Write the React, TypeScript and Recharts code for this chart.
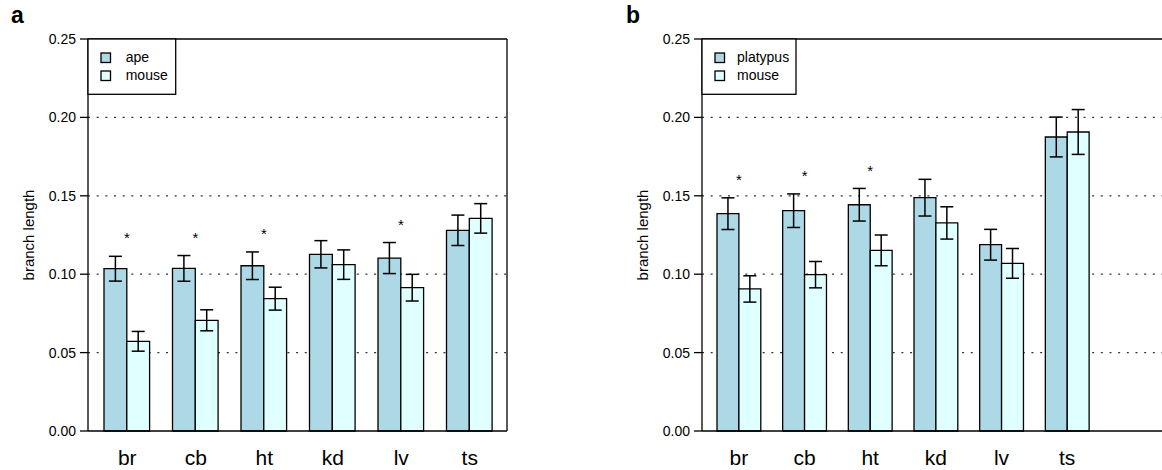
import React from "react";
import { Bar, BarChart, CartesianGrid, ErrorBar, LabelList, Legend, XAxis, YAxis } from "recharts";

const FONT = "'Liberation Sans', Arial, Helvetica, sans-serif";
const FIRST_FILL = "#add8e6";
const SECOND_FILL = "#e0ffff";

const categories = ["br", "cb", "ht", "kd", "lv", "ts"];
const yTicks = [0, 0.05, 0.1, 0.15, 0.2, 0.25];

// panel a: ape vs mouse
const apeLength = [0.1035, 0.1037, 0.1054, 0.1127, 0.1103, 0.128];
const apeErr = [0.0079, 0.0082, 0.0088, 0.0087, 0.0099, 0.0097];
const mouseALength = [0.0572, 0.0706, 0.0844, 0.1061, 0.0914, 0.1356];
const mouseAErr = [0.0063, 0.0067, 0.0073, 0.0094, 0.0085, 0.0094];
const sigA = [true, true, true, false, true, false];

// panel b: platypus vs mouse
const platypusLength = [0.1386, 0.1405, 0.1443, 0.1488, 0.1188, 0.1875];
const platypusErr = [0.0101, 0.0107, 0.0104, 0.0117, 0.0098, 0.0127];
const mouseBLength = [0.0906, 0.0997, 0.1152, 0.1327, 0.1069, 0.1907];
const mouseBErr = [0.0084, 0.0084, 0.0098, 0.0103, 0.0095, 0.0143];
const sigB = [true, true, true, false, false, false];

type Row = {
  cat: string;
  first: number;
  firstErr: number;
  second: number;
  secondErr: number;
  sig: boolean;
};

function buildRows(first: number[], firstErr: number[], second: number[], secondErr: number[], sig: boolean[]): Row[] {
  return categories.map((cat, i) => ({
    cat,
    first: first[i],
    firstErr: firstErr[i],
    second: second[i],
    secondErr: secondErr[i],
    sig: sig[i]
  }));
}

const rowsA = buildRows(apeLength, apeErr, mouseALength, mouseAErr, sigA);
const rowsB = buildRows(platypusLength, platypusErr, mouseBLength, mouseBErr, sigB);

const starLabel = (rows: Row[]) => (props: any) => {
  const row = rows.find((r) => r.cat === props.value);
  if (!row || !row.sig) return null;
  const x = Number(props.x);
  const y = Number(props.y);
  const w = Number(props.width);
  const h = Number(props.height);
  const perUnit = h / row.first;
  const top = Math.max(row.first + row.firstErr, row.second + row.secondErr);
  const cy = y + h - top * perUnit - 21.5;
  return (
    <text x={x + w} y={cy + 8.6} textAnchor="middle" fontSize={15} fontFamily={FONT} fill="#000">
      *
    </text>
  );
};

function LegendBox({ names, width, textX }: { names: string[]; width: number; textX: number }) {
  const fills = [FIRST_FILL, SECOND_FILL];
  return (
    <svg width={width + 2} height={58} style={{ display: "block" }}>
      <rect x={1} y={1} width={width} height={55.3} fill="#fff" stroke="#000" strokeWidth={1.3} />
      {names.map((n, i) => (
        <g key={n}>
          <rect x={14} y={15 + i * 18} width={9.5} height={9.5} fill={fills[i]} stroke="#000" strokeWidth={1.3} />
          <text x={textX} y={24 + i * 18} fontSize={14} fontFamily={FONT} fill="#000">
            {n}
          </text>
        </g>
      ))}
    </svg>
  );
}

function Panel({
  rows,
  names,
  left,
  width,
  rightMargin,
  padding,
  barSize,
  legendWidth,
  legendTextX,
  letter,
  letterX,
  rightBorder
}: {
  rows: Row[];
  names: string[];
  left: number;
  width: number;
  rightMargin: number;
  padding: { left: number; right: number };
  barSize: number;
  legendWidth: number;
  legendTextX: number;
  letter: string;
  letterX: number;
  rightBorder: boolean;
}) {
  return (
    <div style={{ position: "absolute", left, top: 0, width, height: 470 }}>
      <div
        style={{
          position: "absolute",
          left: letterX - left,
          top: 4,
          fontFamily: FONT,
          fontWeight: "bold",
          fontSize: 23,
          lineHeight: "23px"
        }}
      >
        {letter}
      </div>
      <BarChart
        width={width}
        height={470}
        data={rows}
        margin={{ top: 39, right: rightMargin, bottom: 0, left: 0 }}
        barGap={0}
        style={{ fontFamily: FONT }}
      >
        <CartesianGrid
          vertical={false}
          horizontalValues={[0.05, 0.1, 0.15, 0.2]}
          stroke="#333"
          strokeDasharray="2 6.67"
          strokeWidth={1.3}
        />
        {/* solid box: top edge and (panel a only) right edge */}
        <CartesianGrid
          stroke="#000"
          strokeWidth={1.3}
          horizontalCoordinatesGenerator={(p: any) => [p.offset.top]}
          vertical={rightBorder}
          verticalCoordinatesGenerator={(p: any) => [p.offset.left + p.offset.width]}
        />
        <XAxis
          dataKey="cat"
          height={39}
          padding={padding}
          tickLine={false}
          tickSize={0}
          tickMargin={19}
          axisLine={{ stroke: "#000", strokeWidth: 1.3 }}
          tick={{ fontSize: 21, fill: "#000", fontFamily: FONT }}
        />
        <YAxis
          width={88}
          domain={[0, 0.25]}
          ticks={yTicks}
          interval={0}
          tickFormatter={(v: number) => v.toFixed(2)}
          tickSize={8}
          tickMargin={4}
          axisLine={{ stroke: "#000", strokeWidth: 1.3 }}
          tickLine={{ stroke: "#000", strokeWidth: 1.3 }}
          tick={{ fontSize: 14, fill: "#000", fontFamily: FONT }}
          label={{
            content: (p: any) => {
              const vb = p.viewBox || { x: 0, y: 39, width: 88, height: 392 };
              const cx = vb.x + 33.5;
              const cy = vb.y + vb.height / 2;
              return (
                <text
                  x={cx}
                  y={cy}
                  transform={`rotate(-90 ${cx} ${cy})`}
                  textAnchor="middle"
                  fontSize={15}
                  fontFamily={FONT}
                  fill="#000"
                >
                  branch length
                </text>
              );
            }
          }}
        />
        <Legend
          layout="vertical"
          align="center"
          verticalAlign="middle"
          wrapperStyle={{ left: 87, top: 38, width: legendWidth + 2, height: 58 }}
          content={() => <LegendBox names={names} width={legendWidth} textX={legendTextX} />}
        />
        <Bar dataKey="first" name={names[0]} fill={FIRST_FILL} stroke="#000" strokeWidth={1.3} barSize={barSize} isAnimationActive={false}>
          <ErrorBar dataKey="firstErr" width={6.5} stroke="#000" strokeWidth={1.5} direction="y" isAnimationActive={false} />
          <LabelList dataKey="cat" content={starLabel(rows)} />
        </Bar>
        <Bar dataKey="second" name={names[1]} fill={SECOND_FILL} stroke="#000" strokeWidth={1.3} barSize={barSize} isAnimationActive={false}>
          <ErrorBar dataKey="secondErr" width={6.5} stroke="#000" strokeWidth={1.5} direction="y" isAnimationActive={false} />
        </Bar>
      </BarChart>
    </div>
  );
}

export default function App() {
  return (
    <div style={{ position: "absolute", left: 0, top: 0, width: 1162, height: 470, overflow: "hidden", background: "#fff" }}>
      <Panel
        rows={rowsA}
        names={["ape", "mouse"]}
        left={0}
        width={520}
        rightMargin={13}
        padding={{ left: 5, right: 3 }}
        barSize={22.8}
        legendWidth={87.7}
        legendTextX={38.7}
        letter="a"
        letterX={11}
        rightBorder={true}
      />
      <Panel
        rows={rowsB}
        names={["platypus", "mouse"]}
        left={614}
        width={548}
        rightMargin={0}
        padding={{ left: 4, right: 62 }}
        barSize={21.9}
        legendWidth={94}
        legendTextX={36}
        letter="b"
        letterX={626}
        rightBorder={false}
      />
    </div>
  );
}
